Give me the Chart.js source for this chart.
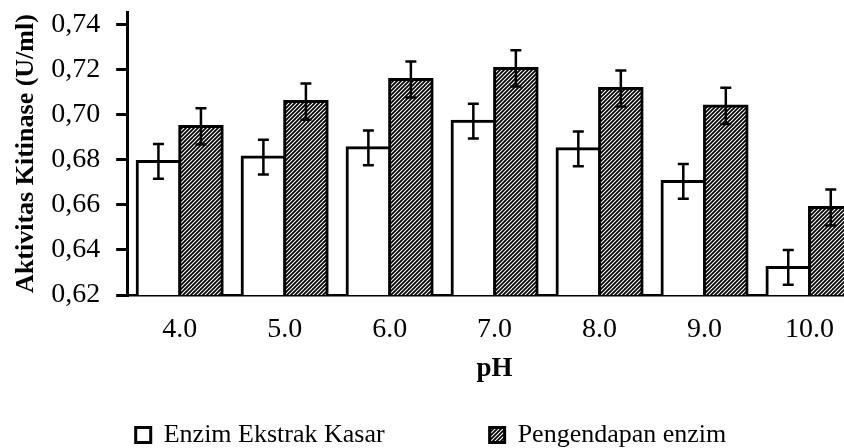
<!DOCTYPE html>
<html>
<head>
<meta charset="utf-8">
<script src="https://cdn.jsdelivr.net/npm/chart.js@4/dist/chart.umd.min.js"></script>
<style>
  html, body { margin: 0; padding: 0; background: #fff; overflow: hidden; }
  #frame { width: 844px; height: 448px; overflow: hidden; position: relative; }
  #wrap { width: 862px; height: 448px; position: absolute; left: 0; top: 0; }
</style>
</head>
<body>
<div id="frame"><div id="wrap"><canvas id="c" width="862" height="448"></canvas></div></div>
<script>
// pH values tested
const categories = ['4.0', '5.0', '6.0', '7.0', '8.0', '9.0', '10.0'];
// chitinase activity (U/ml)
const crudeExtract = [0.6792, 0.6811, 0.6852, 0.6970, 0.6848, 0.6703, 0.6322];
const precipitated = [0.6947, 0.7057, 0.7155, 0.7204, 0.7115, 0.7038, 0.6588];
// standard deviations
const crudeError = [0.0077, 0.0077, 0.0077, 0.0077, 0.0077, 0.0077, 0.0077];
const precipError = [0.0080, 0.0080, 0.0080, 0.0080, 0.0080, 0.0080, 0.0080];
// y-axis ticks
const yTicks = [0.62, 0.64, 0.66, 0.68, 0.70, 0.72, 0.74];
const seriesNames = ['Enzim Ekstrak Kasar', 'Pengendapan enzim'];

const FONT = "'Liberation Serif', 'Times New Roman', serif";

// diagonal hatch fill
function makeHatch() {
  const s = 4;
  const t = document.createElement('canvas');
  t.width = s; t.height = s;
  const g = t.getContext('2d');
  g.fillStyle = '#000';
  g.fillRect(0, 0, s, s);
  g.strokeStyle = '#fff';
  g.lineWidth = 1.1;
  g.beginPath();
  g.moveTo(-1, s + 1); g.lineTo(s + 1, -1);
  g.moveTo(-1, 1); g.lineTo(1, -1);
  g.moveTo(s - 1, s + 1); g.lineTo(s + 1, s - 1);
  g.stroke();
  return document.getElementById('c').getContext('2d').createPattern(t, 'repeat');
}
const hatch = makeHatch();

// error bars drawn on top of the bars
const errorBars = {
  id: 'errorBars',
  afterDatasetsDraw(chart) {
    const ctx = chart.ctx;
    const y = chart.scales.y;
    chart.data.datasets.forEach((ds, di) => {
      const meta = chart.getDatasetMeta(di);
      meta.data.forEach((bar, i) => {
        const v = ds.data[i], e = ds.errors[i];
        const top = y.getPixelForValue(v + e);
        const bot = y.getPixelForValue(v - e);
        const x = bar.x;
        ctx.save();
        ctx.strokeStyle = '#000';
        ctx.lineWidth = 2.5;
        ctx.beginPath();
        ctx.moveTo(x, top); ctx.lineTo(x, bot);
        ctx.moveTo(x - 5.5, top); ctx.lineTo(x + 5.5, top);
        ctx.moveTo(x - 5.5, bot); ctx.lineTo(x + 5.5, bot);
        ctx.stroke();
        ctx.restore();
      });
    });
  }
};

new Chart(document.getElementById('c'), {
  type: 'bar',
  data: {
    labels: categories,
    datasets: [
      {
        label: seriesNames[0],
        data: crudeExtract,
        errors: crudeError,
        backgroundColor: '#fff',
        borderColor: '#000',
        borderWidth: 3,
        borderSkipped: false,
        inflateAmount: 1.5
      },
      {
        label: seriesNames[1],
        data: precipitated,
        errors: precipError,
        backgroundColor: hatch,
        borderColor: '#000',
        borderWidth: 3,
        borderSkipped: false,
        inflateAmount: 1.5
      }
    ]
  },
  options: {
    responsive: false,
    animation: false,
    layout: { padding: { top: 12, left: 0, right: 0, bottom: -10 } },
    datasets: { bar: { categoryPercentage: 0.81, barPercentage: 1.0 } },
    plugins: {
      tooltip: { enabled: false },
      legend: {
        position: 'bottom',
        labels: {
          color: '#000',
          font: { family: FONT, size: 26 },
          boxWidth: 15,
          boxHeight: 15,
          padding: 1,
          generateLabels(chart) {
            return chart.data.datasets.map((ds, i) => ({
              text: i === 0 ? ds.label + '\u2003\u2003\u2003\u2003' : ds.label,
              fillStyle: ds.backgroundColor,
              strokeStyle: '#000',
              lineWidth: 3,
              fontColor: '#000',
              datasetIndex: i
            }));
          }
        }
      }
    },
    scales: {
      x: {
        grid: { display: false, drawTicks: false },
        border: { display: true, color: '#000', width: 2.5 },
        ticks: { color: '#000', font: { family: FONT, size: 28 }, padding: 18 },
        title: {
          display: true,
          text: 'pH',
          color: '#000',
          font: { family: FONT, size: 27, weight: 'bold' },
          padding: { top: -12, bottom: 36 }
        }
      },
      y: {
        min: 0.62,
        max: 0.7454,
        afterBuildTicks(scale) {
          scale.ticks = yTicks.map(v => ({ value: v }));
        },
        grid: {
          drawOnChartArea: false,
          drawTicks: true,
          tickLength: 27,
          tickBorderDash: [0, 16, 40, 0],
          lineWidth: 3,
          color: '#000'
        },
        border: { display: true, color: '#000', width: 3 },
        ticks: {
          color: '#000',
          font: { family: FONT, size: 28, lineHeight: 0.8 },
          padding: 0,
          callback: (v) => Number(v).toFixed(2).replace('.', ',')
        },
        title: {
          display: true,
          text: 'Aktivitas Kitinase (U/ml)',
          color: '#000',
          font: { family: FONT, size: 26, weight: 'bold' },
          padding: { top: 10.5, bottom: 9.5 }
        }
      }
    }
  },
  plugins: [errorBars]
});
</script>
</body>
</html>
